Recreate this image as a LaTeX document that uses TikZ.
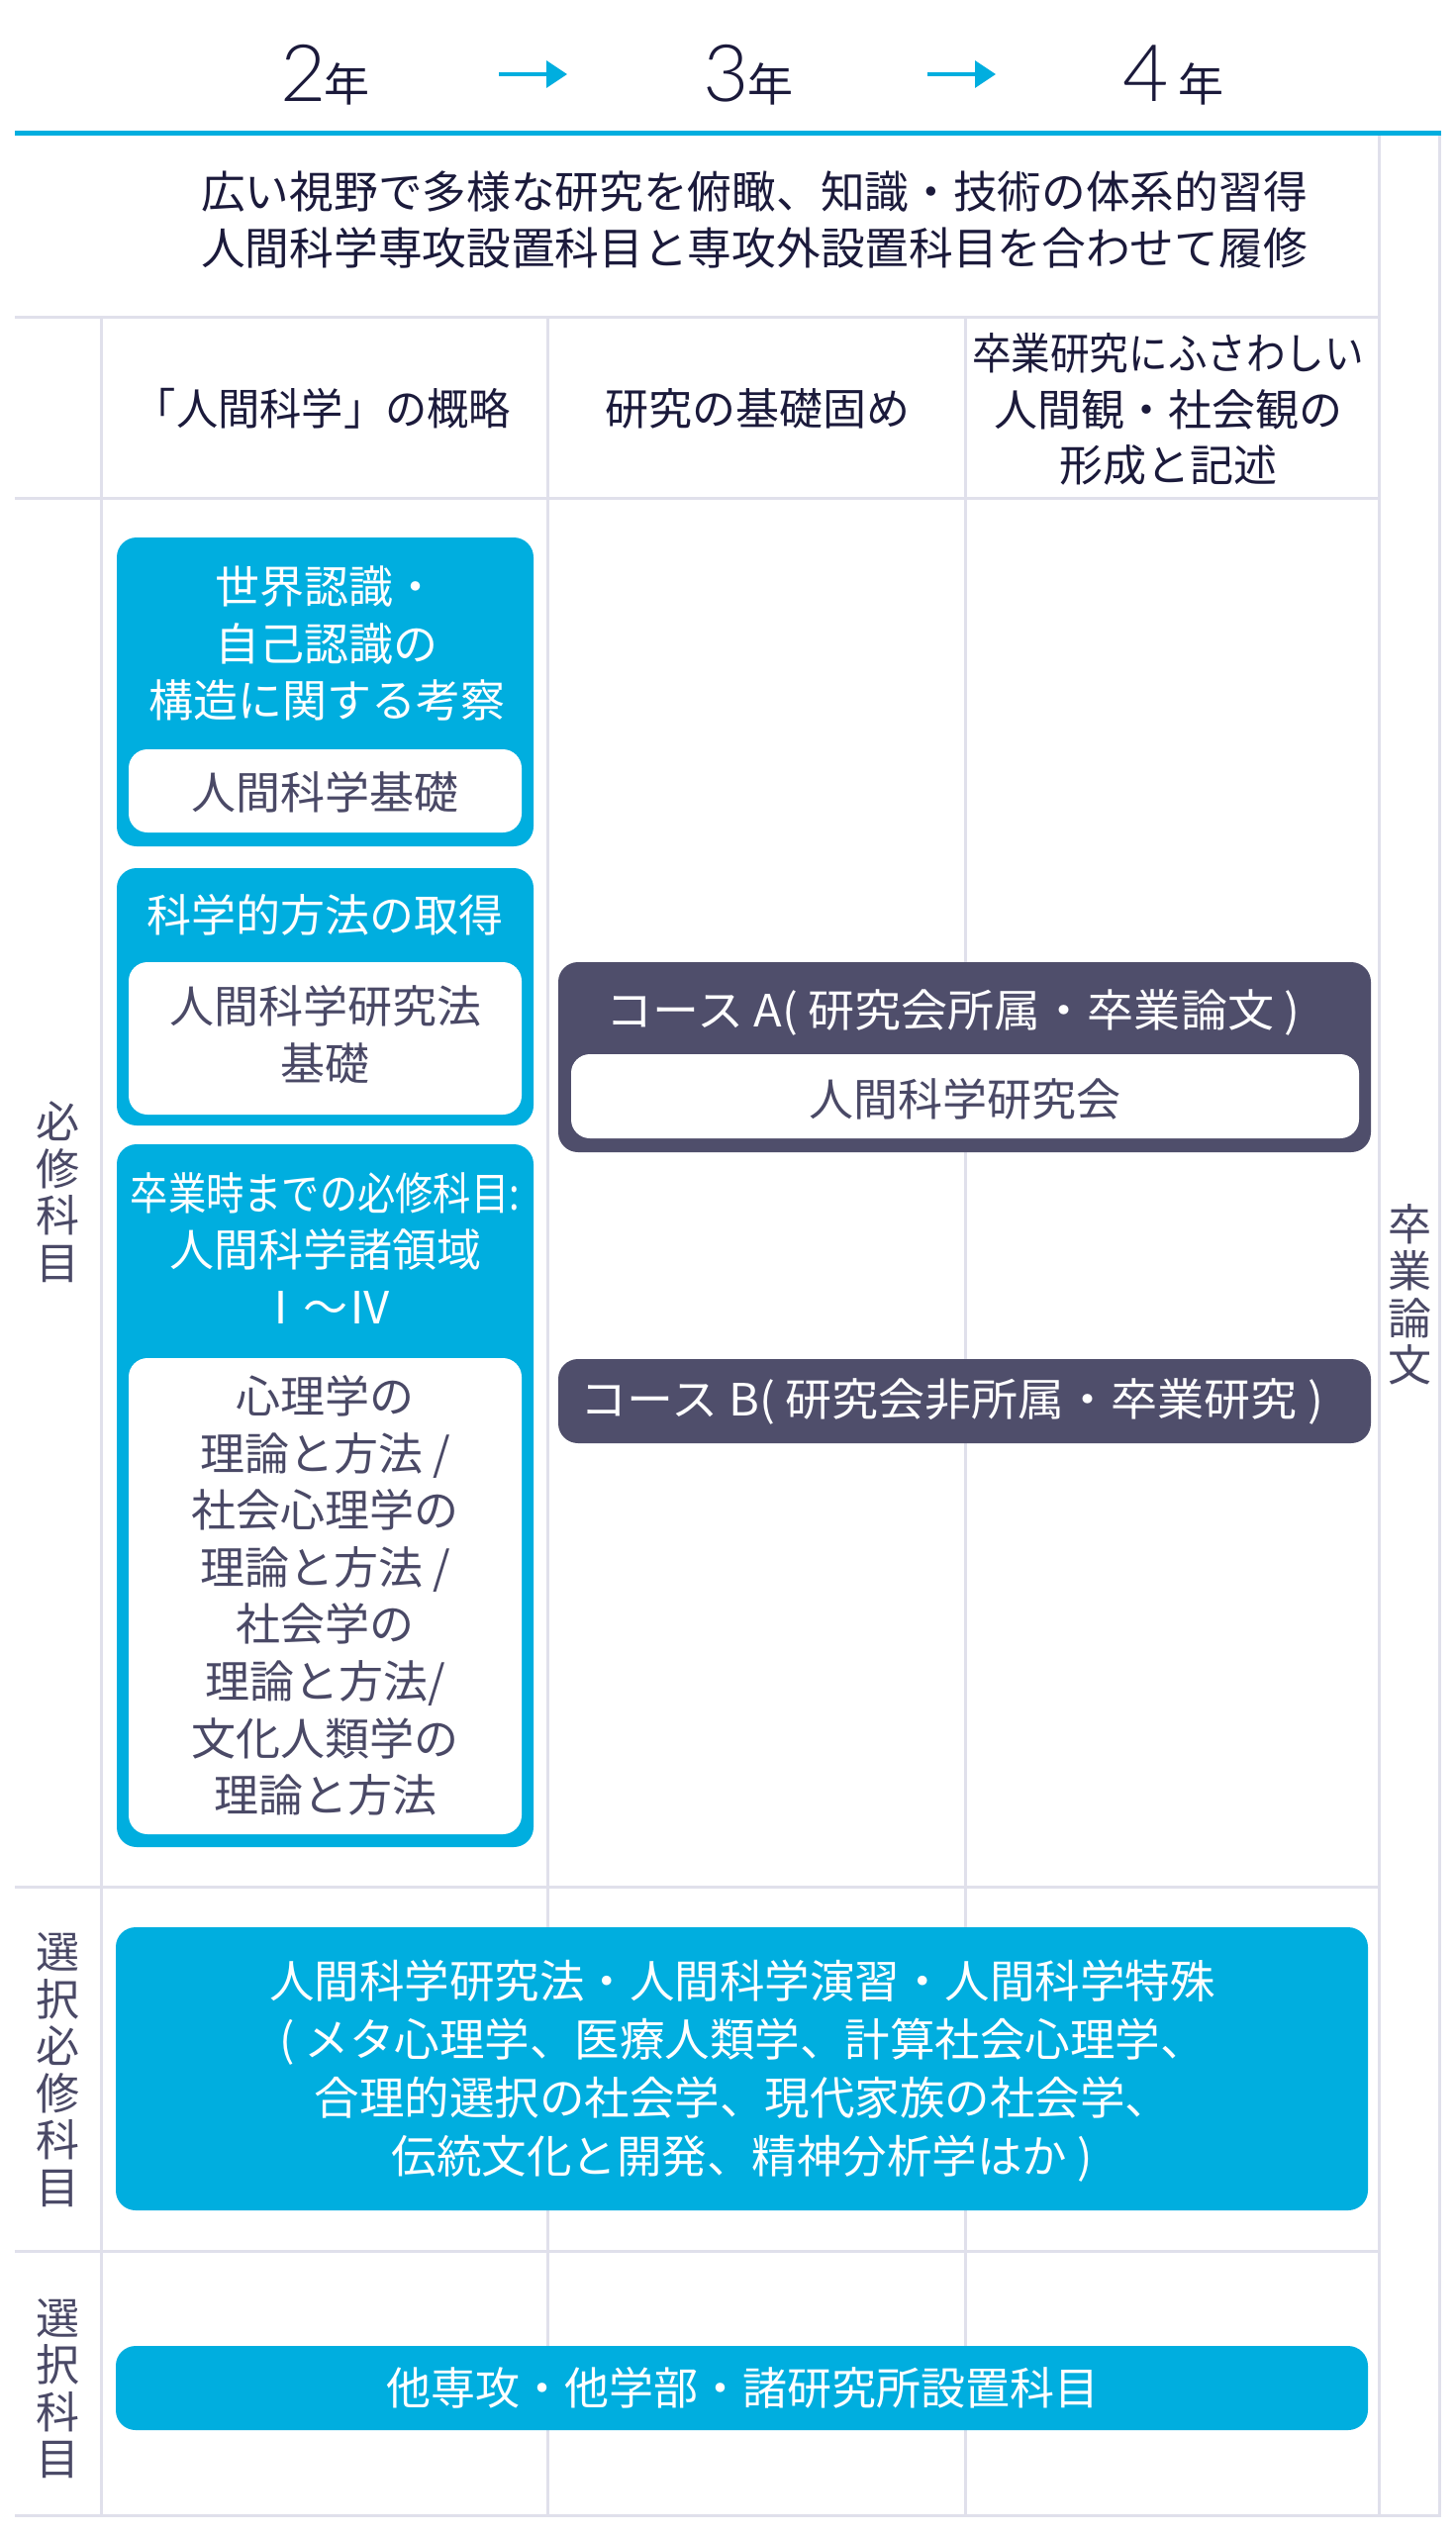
\documentclass[tikz,border=0pt]{standalone}
\usepackage{fontspec}
\setmainfont{Noto Sans CJK JP}
\IfFontExistsTF{Lato Light}{\newfontfamily\digitfont{Lato Light}}{\newfontfamily\digitfont{Lato}}
\usetikzlibrary{arrows.meta}
\definecolor{cyanc}{HTML}{00AEDF}
\definecolor{darkc}{HTML}{4F4E6B}
\definecolor{navyc}{HTML}{1B1A3B}
\definecolor{graytxt}{HTML}{4A4966}
\definecolor{gridc}{HTML}{E0E0EB}
\newcommand\fsz[2]{\fontsize{#1}{#2}\selectfont}
\tikzset{
  gridline/.style={draw=gridc, line width=3pt},
  cyanbox/.style={fill=cyanc, rounded corners=20pt, inner sep=0pt},
  whitebox/.style={fill=white, rounded corners=19pt, inner sep=0pt},
  darkbox/.style={fill=darkc, rounded corners=20pt, inner sep=0pt},
  wtxt/.style={text=white, align=center, inner sep=0pt, font=\fsz{45}{57.5}},
  gtxt/.style={text=graytxt, align=center, inner sep=0pt, font=\fsz{45}{57.6}},
  htxt/.style={text=navyc, align=center, inner sep=0pt, font=\fsz{44.7}{57}},
  chtxt/.style={text=navyc, align=center, inner sep=0pt, font=\fsz{44}{56.5}},
  vtxt/.style={text=graytxt, align=center, inner sep=0pt, font=\fsz{44}{47.5}},
  digit/.style={text=navyc, inner sep=0pt, anchor=base west, font=\digitfont\fsz{80}{80}},
  nen/.style={text=navyc, inner sep=0pt, anchor=base west, font=\fsz{46}{46}},
  yeararrow/.style={draw=cyanc, line width=3.5pt, -{Triangle[length=21pt,width=27pt]}},
}
\begin{document}
\begin{tikzpicture}[x=1pt,y=-1pt]
\useasboundingbox[fill=white] (0,0) rectangle (1471,2560);

% year labels
\node[digit] (d2) at (283,102) {2};
\node[nen] (n2) at (327,102) {年};
\node[digit] (d3) at (710,102) {3};
\node[nen] (n3) at (755,102) {年};
\node[digit] (d4) at (1134,102) {4};
\node[nen] (n4) at (1190,102) {年};
\coordinate (a1s) at (504,75);
\coordinate (a1e) at (573,75);
\coordinate (a2s) at (937,75);
\coordinate (a2e) at (1006,75);
\draw[yeararrow] (a1s) -- (a1e);
\draw[yeararrow] (a2s) -- (a2e);

% grid
\draw[gridline] (1393,134) -- (1393,2541);
\draw[gridline] (1454,134) -- (1454,2541);
\draw[gridline] (15,320) -- (1393,320);
\draw[gridline] (15,503) -- (1393,503);
\draw[gridline] (15,1906) -- (1393,1906);
\draw[gridline] (15,2274) -- (1393,2274);
\draw[gridline] (15,2541) -- (1455.5,2541);
\draw[gridline] (102,320) -- (102,2541);
\draw[gridline] (553,320) -- (553,2541);
\draw[gridline] (975,320) -- (975,2541);
\draw[draw=cyanc, line width=5pt] (15,134.5) -- (1456,134.5);

% header texts
\node[htxt] (head) at (762,221.5) {広い視野で多様な研究を俯瞰、知識・技術の体系的習得\\人間科学専攻設置科目と専攻外設置科目を合わせて履修};
\node[chtxt] (c1) at (326,413) {\scalebox{0.96}[1]{「人間科学」の概略}};
\node[chtxt] (c2) at (765,413) {研究の基礎固め};
\node[chtxt] (c3) at (1180,413.5) {\scalebox{0.9}[1]{卒業研究にふさわしい}\\人間観・社会観の\\形成と記述};

% vertical labels
\node[vtxt] (v1) at (58,1204) {必\\修\\科\\目};
\node[vtxt, text=graytxt] (v2) at (1424,1308) {卒\\業\\論\\文};
\node[vtxt] (v3) at (58,2091) {選\\択\\必\\修\\科\\目};
\node[vtxt] (v4) at (58,2413) {選\\択\\科\\目};

% column 1 boxes
\node[cyanbox, minimum width=421pt, minimum height=312pt] (b1) at (328.5,699) {};
\node[whitebox, minimum width=397pt, minimum height=84pt] (w1) at (328.5,799) {};
\node[wtxt] (t1) at (330,650) {世界認識・\\自己認識の\\構造に関する考察};
\node[gtxt] (tw1) at (328.5,800) {人間科学基礎};

\node[cyanbox, minimum width=421pt, minimum height=260pt] (b2) at (328.5,1007) {};
\node[whitebox, minimum width=397pt, minimum height=154pt] (w2) at (328.5,1049) {};
\node[wtxt] (t2) at (328.5,924) {科学的方法の取得};
\node[gtxt] (tw2) at (328.5,1045) {人間科学研究法\\基礎};

\node[cyanbox, minimum width=421pt, minimum height=710pt] (b3) at (328.5,1511) {};
\node[whitebox, minimum width=397pt, minimum height=481pt] (w3) at (328.5,1612.5) {};
\node[wtxt] (t3) at (328.5,1261) {\scalebox{0.85}[1]{卒業時までの必修科目:}\\人間科学諸領域\\Ⅰ～Ⅳ};
\node[gtxt] (tw3) at (328.5,1612) {心理学の\\理論と方法 /\\社会心理学の\\理論と方法 /\\社会学の\\理論と方法/\\文化人類学の\\理論と方法};

% courses
\node[darkbox, minimum width=821pt, minimum height=192pt] (cA) at (974.5,1068) {};
\node[whitebox, minimum width=796pt, minimum height=85pt] (wA) at (975,1107.5) {};
\node[wtxt] (tA) at (963,1023) {\scalebox{1.045}[1]{コース A( 研究会所属・卒業論文 )}};
\node[gtxt] (twA) at (975,1110) {人間科学研究会};

\node[darkbox, minimum width=821pt, minimum height=85pt] (cB) at (974.5,1415.5) {};
\node[wtxt] (tB) at (962,1416) {\scalebox{1.045}[1]{コース B( 研究会非所属・卒業研究 )}};

% elective boxes
\node[cyanbox, minimum width=1265pt, minimum height=286pt] (e1) at (749.5,2090) {};
\node[wtxt, font=\fsz{45.5}{59}] (te1) at (750,2092.5) {人間科学研究法・人間科学演習・人間科学特殊\\( メタ心理学、医療人類学、計算社会心理学、\\合理的選択の社会学、現代家族の社会学、\\伝統文化と開発、精神分析学はか )};
\node[cyanbox, minimum width=1265pt, minimum height=85pt] (e2) at (749.5,2412.5) {};
\node[wtxt] (te2) at (750,2412) {他専攻・他学部・諸研究所設置科目};
\end{tikzpicture}
\end{document}
